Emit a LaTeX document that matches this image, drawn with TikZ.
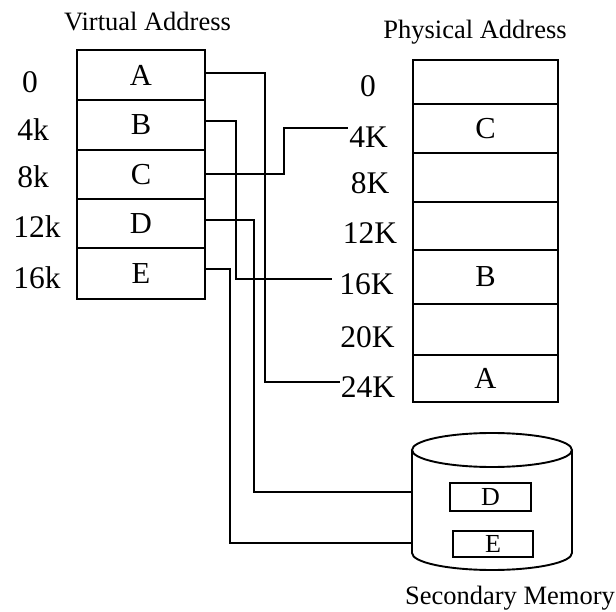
\documentclass[tikz,border=0pt]{standalone}
\usepackage{fontspec}
\setmainfont{Liberation Serif}
\begin{document}
\begin{tikzpicture}[x=1pt,y=-1pt,line width=1.9pt,
  vrow/.style={draw, minimum width=128pt, minimum height=#1, inner sep=0pt, anchor=north, font=\fontsize{30.5}{30.5}\selectfont},
  prow/.style={draw, minimum width=145pt, minimum height=#1, inner sep=0pt, anchor=north, font=\fontsize{30.5}{30.5}\selectfont},
  addr/.style={inner sep=0pt, font=\fontsize{31.5}{31.5}\selectfont},
  ttl/.style={inner sep=0pt, anchor=base, font=\fontsize{26.5}{26.5}\selectfont},
  diskbox/.style={draw, minimum width=#1, inner sep=0pt, font=\fontsize{26}{26}\selectfont},
  link/.style={line width=2.1pt}]
\useasboundingbox (0,0) rectangle (616,612);

% titles
\node[ttl] (tv) at (147.5,31) {Virtual Address};
\node[ttl] (tp) at (475,39) {Physical Address};
\node[ttl] (ts) at (510,604) {Secondary Memory};

% virtual address rows
\node[vrow=50pt] (va) at (141,49) {A};
\node[vrow=50pt] (vb) at (141,99) {B};
\node[vrow=49pt] (vc) at (141,149) {C};
\node[vrow=49pt] (vd) at (141,198) {D};
\node[vrow=51pt] (ve) at (141,247) {E};

% virtual labels
\node[addr] (v0) at (30,82) {0};
\node[addr] (v4) at (33,130) {4k};
\node[addr] (v8) at (33,177) {8k};
\node[addr] (v12) at (37,227) {12k};
\node[addr] (v16) at (37,278) {16k};

% physical rows
\node[prow=44pt] (p0) at (485.5,59) {};
\node[prow=49pt] (p1) at (485.5,103) {C};
\node[prow=49pt] (p2) at (485.5,152) {};
\node[prow=48pt] (p3) at (485.5,201) {};
\node[prow=54pt] (p4) at (485.5,249) {B};
\node[prow=51pt] (p5) at (485.5,303) {};
\node[prow=47pt] (p6) at (485.5,354) {A};

% physical labels
\node[addr] (l0) at (368,86) {0};
\node[addr] (l4) at (368.5,137) {4K};
\node[addr] (l8) at (370,183) {8K};
\node[addr] (l12) at (370,233) {12K};
\node[addr] (l16) at (366.5,284) {16K};
\node[addr] (l20) at (367.5,337) {20K};
\node[addr] (l24) at (368,387) {24K};

% secondary memory cylinder
\draw (412,450) -- (412,553) arc[start angle=180, end angle=360, x radius=80pt, y radius=17pt] -- (572,450);
\draw (492,450) ellipse [x radius=80pt, y radius=17pt];
\coordinate (cylD) at (412,492);
\coordinate (cylE) at (412,543);
\node[diskbox=81pt, minimum height=28pt] (sd) at (490.5,497) {D};
\node[diskbox=80pt, minimum height=26pt] (se) at (493,544) {E};

% connectors
\draw[link] ([yshift=1.5pt]va.east) -| ([xshift=-75pt,yshift=5pt]l24.west) -- ([yshift=5pt]l24.west);
\draw[link] ([yshift=4pt]vb.east) -| ([xshift=-102pt,yshift=5pt]l16.west) -- ([xshift=-6pt,yshift=5pt]l16.west);
\draw[link] (vc.east) -| ([xshift=-64pt,yshift=9pt]l4.west) -- ([yshift=9pt]l4.west);
\draw[link] ([yshift=3.5pt]vd.east) -| ([xshift=-158pt]cylD) -- (cylD);
\draw[link] ([yshift=4.5pt]ve.east) -| ([xshift=-182pt]cylE) -- (cylE);
\end{tikzpicture}
\end{document}
